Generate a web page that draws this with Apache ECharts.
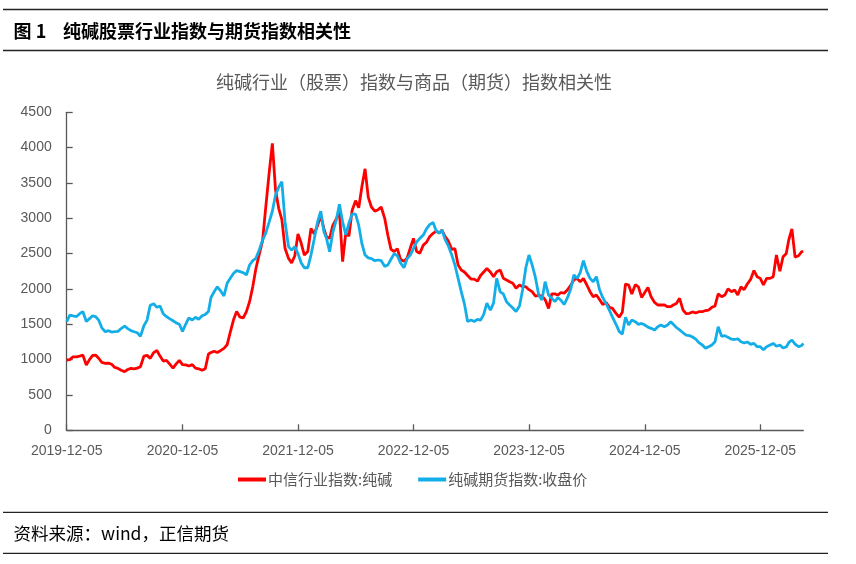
<!DOCTYPE html>
<html>
<head>
<meta charset="utf-8">
<script src="https://cdn.jsdelivr.net/npm/echarts@6/dist/echarts.min.js"></script>
<style>
html,body{margin:0;padding:0;background:#fff;}
#chart{width:856px;height:564px;}
</style>
</head>
<body>
<div id="chart"></div>
<script>
// Dates: 5th, 15th, 25th of each month
const dates = [
'2019-12-05','2019-12-15','2019-12-25',
'2020-01-05','2020-01-15','2020-01-25','2020-02-05','2020-02-15','2020-02-25','2020-03-05','2020-03-15','2020-03-25',
'2020-04-05','2020-04-15','2020-04-25','2020-05-05','2020-05-15','2020-05-25','2020-06-05','2020-06-15','2020-06-25',
'2020-07-05','2020-07-15','2020-07-25','2020-08-05','2020-08-15','2020-08-25','2020-09-05','2020-09-15','2020-09-25',
'2020-10-05','2020-10-15','2020-10-25','2020-11-05','2020-11-15','2020-11-25','2020-12-05','2020-12-15','2020-12-25',
'2021-01-05','2021-01-15','2021-01-25','2021-02-05','2021-02-15','2021-02-25','2021-03-05','2021-03-15','2021-03-25',
'2021-04-05','2021-04-15','2021-04-25','2021-05-05','2021-05-15','2021-05-25','2021-06-05','2021-06-15','2021-06-25',
'2021-07-05','2021-07-15','2021-07-25','2021-08-05','2021-08-15','2021-08-25','2021-09-05','2021-09-15','2021-09-25',
'2021-10-05','2021-10-15','2021-10-25','2021-11-05','2021-11-15','2021-11-25','2021-12-05','2021-12-15','2021-12-25',
'2022-01-05','2022-01-15','2022-01-25','2022-02-05','2022-02-15','2022-02-25','2022-03-05','2022-03-15','2022-03-25',
'2022-04-05','2022-04-15','2022-04-25','2022-05-05','2022-05-15','2022-05-25','2022-06-05','2022-06-15','2022-06-25',
'2022-07-05','2022-07-15','2022-07-25','2022-08-05','2022-08-15','2022-08-25','2022-09-05','2022-09-15','2022-09-25',
'2022-10-05','2022-10-15','2022-10-25','2022-11-05','2022-11-15','2022-11-25','2022-12-05','2022-12-15','2022-12-25',
'2023-01-05','2023-01-15','2023-01-25','2023-02-05','2023-02-15','2023-02-25','2023-03-05','2023-03-15','2023-03-25',
'2023-04-05','2023-04-15','2023-04-25','2023-05-05','2023-05-15','2023-05-25','2023-06-05','2023-06-15','2023-06-25',
'2023-07-05','2023-07-15','2023-07-25','2023-08-05','2023-08-15','2023-08-25','2023-09-05','2023-09-15','2023-09-25',
'2023-10-05','2023-10-15','2023-10-25','2023-11-05','2023-11-15','2023-11-25','2023-12-05','2023-12-15','2023-12-25',
'2024-01-05','2024-01-15','2024-01-25','2024-02-05','2024-02-15','2024-02-25','2024-03-05','2024-03-15','2024-03-25',
'2024-04-05','2024-04-15','2024-04-25','2024-05-05','2024-05-15','2024-05-25','2024-06-05','2024-06-15','2024-06-25',
'2024-07-05','2024-07-15','2024-07-25','2024-08-05','2024-08-15','2024-08-25','2024-09-05','2024-09-15','2024-09-25',
'2024-10-05','2024-10-15','2024-10-25','2024-11-05','2024-11-15','2024-11-25','2024-12-05','2024-12-15','2024-12-25',
'2025-01-05','2025-01-15','2025-01-25','2025-02-05','2025-02-15','2025-02-25','2025-03-05','2025-03-15','2025-03-25',
'2025-04-05','2025-04-15','2025-04-25','2025-05-05','2025-05-15','2025-05-25','2025-06-05','2025-06-15','2025-06-25',
'2025-07-05','2025-07-15','2025-07-25','2025-08-05','2025-08-15','2025-08-25','2025-09-05','2025-09-15','2025-09-25',
'2025-10-05','2025-10-15','2025-10-25','2025-11-05','2025-11-15','2025-11-25','2025-12-05','2025-12-15','2025-12-25',
'2026-01-05','2026-01-15','2026-01-25','2026-02-05','2026-02-15','2026-02-25','2026-03-05','2026-03-15','2026-03-25',
'2026-04-05','2026-04-15','2026-04-20'
];

// 中信行业指数:纯碱
const stockIndex = [
995,1000,1040,
1040,1050,1065, 924,1000,1060, 1065,1020,960,
947,950,935, 890,877,850, 830,860,877,
870,880,900, 1050,1060,1018, 1100,1130,1050,
980,990,940, 880,940,990, 930,925,910,
930,880,870, 850,870,1080, 1100,1120,1100,
1130,1160,1210, 1390,1560,1680, 1600,1590,1680,
1820,2030,2290, 2500,2680,3150, 3650,4060,3400,
3141,2980,2575, 2433,2370,2470, 2780,2650,2480,
2530,2858,2780, 2900,3040,2850, 2740,2716,2900,
2990,3090,2386, 2790,2750,3110, 3250,3150,3450,
3700,3300,3160, 3100,3120,3160, 3000,2760,2560,
2530,2570,2420, 2390,2440,2580, 2716,2530,2505,
2620,2660,2740, 2787,2820,2790, 2834,2740,2680,
2560,2570,2339, 2268,2240,2190, 2140,2140,2110,
2190,2240,2290, 2240,2174,2245, 2268,2150,2127,
2103,2080,2010, 2056,2032,2032, 1990,1962,1900,
1910,1900,1850, 1725,1930,1930, 1914,1950,1940,
1990,2050,2130, 2150,2103,2150, 2056,1962,1890,
1914,1850,1780, 1810,1740,1725, 1655,1600,1670,
2070,2056,1930, 2060,2030,1880, 1950,2020,1890,
1810,1773,1773, 1773,1749,1749, 1773,1796,1867,
1700,1650,1655, 1675,1660,1678, 1678,1695,1702,
1740,1760,1930, 1890,1914,2000, 1962,1985,1914,
2030,1990,2070, 2140,2260,2174, 2150,2056,2150,
2150,2174,2480, 2250,2457,2500, 2693,2850,2450,
2470,2528,2528
];

// 纯碱期货指数:收盘价
const futuresIndex = [
1537,1630,1620,
1610,1650,1680, 1540,1580,1620, 1610,1560,1450,
1395,1410,1390, 1395,1400,1440, 1475,1440,1410,
1395,1380,1330, 1480,1560,1770, 1790,1740,1760,
1650,1610,1580, 1550,1520,1500, 1400,1500,1590,
1560,1600,1570, 1620,1640,1680, 1880,1960,2030,
1970,1900,2080, 2150,2220,2260, 2245,2230,2198,
2339,2400,2433, 2560,2690,2790, 2950,3100,3330,
3440,3518,2952, 2600,2550,2600, 2500,2370,2300,
2300,2480,2700, 2952,3100,2810, 2716,2528,2800,
2976,3200,2950, 2770,2930,3060, 3060,2900,2640,
2480,2440,2430, 2400,2410,2400, 2320,2340,2420,
2500,2470,2370, 2300,2430,2480, 2575,2665,2716,
2763,2850,2910, 2940,2820,2790, 2834,2700,2610,
2480,2339,2150, 1962,1790,1540, 1560,1540,1570,
1560,1640,1800, 1700,1800,2150, 1960,1930,1820,
1773,1730,1680, 1760,1990,2300, 2480,2340,2170,
1910,1843,2103, 1914,1870,1820, 1880,1840,1780,
1880,2000,2200, 2150,2230,2400, 2245,2150,2103,
2174,1990,1880, 1790,1700,1600, 1500,1400,1360,
1600,1490,1560, 1537,1500,1513, 1490,1460,1443,
1419,1466,1490, 1466,1490,1537, 1500,1455,1420,
1380,1348,1340, 1320,1290,1240, 1207,1160,1183,
1207,1254,1466, 1330,1340,1315, 1290,1285,1295,
1254,1235,1250, 1215,1230,1183, 1183,1140,1183,
1207,1230,1190, 1207,1165,1180, 1240,1278,1220,
1183,1200,1230
];

const xTickLabels = ['2019-12-05','2020-12-05','2021-12-05','2022-12-05','2023-12-05','2024-12-05','2025-12-05'];
const seriesNames = ['中信行业指数:纯碱','纯碱期货指数:收盘价'];
const chartTitle = '纯碱行业（股票）指数与商品（期货）指数相关性';
const figureNo = '图 1';
const figureTitle = '纯碱股票行业指数与期货指数相关性';
const sourceText = '资料来源：wind，正信期货';

function ts(s){const p=s.split('-').map(Number);return new Date(p[0],p[1]-1,p[2]).getTime();}
function fmt(v){const d=new Date(v);const p=n=>(n<10?'0':'')+n;return d.getFullYear()+'-'+p(d.getMonth()+1)+'-'+p(d.getDate());}

const tickVals = xTickLabels.map(ts);
const LAT = '"Liberation Sans", "Noto Sans CJK SC", sans-serif';
const CJK = '"Noto Sans CJK SC", sans-serif';

const chart = echarts.init(document.getElementById('chart'), null, {renderer:'canvas'});
chart.setOption({
  animation:false,
  backgroundColor:'#fff',
  grid:{left:66.7, right:52.7, top:112.3, bottom:133.7, containLabel:false},
  legend:{
    left:238, top:472, padding:0, itemGap:26, itemWidth:28, itemHeight:4, icon:'rect',
    textStyle:{fontSize:15, color:'#595959', fontFamily:CJK, padding:[0,0,0,-3]},
    data:seriesNames
  },
  xAxis:{
    type:'value',
    min:ts(dates[0]), max:ts(dates[dates.length-1]),
    axisLine:{show:true, lineStyle:{color:'#595959', width:1.3}},
    axisTick:{show:true, inside:true, length:6, customValues:tickVals, lineStyle:{color:'#595959', width:1.3}},
    axisLabel:{customValues:tickVals, formatter:v=>fmt(v), margin:14, fontSize:14, color:'#595959', fontFamily:LAT, hideOverlap:false},
    splitLine:{show:false}
  },
  yAxis:{
    type:'value', min:0, max:4500, interval:500,
    axisLine:{show:true, lineStyle:{color:'#595959', width:1.3}},
    axisTick:{show:true, inside:true, length:6, lineStyle:{color:'#595959', width:1.3}},
    axisLabel:{margin:15, fontSize:14, color:'#595959', fontFamily:LAT, formatter:v=>String(v)},
    splitLine:{show:false}
  },
  series:[
    {name:seriesNames[0], type:'line', showSymbol:false, symbol:'none', color:'#FF0000',
     lineStyle:{width:2.8, color:'#FF0000'}, data:dates.map((d,i)=>[ts(d), stockIndex[i]])},
    {name:seriesNames[1], type:'line', showSymbol:false, symbol:'none', color:'#13AEE8',
     lineStyle:{width:2.8, color:'#13AEE8'}, data:dates.map((d,i)=>[ts(d), futuresIndex[i]])}
  ],
  graphic:[
    {type:'line', shape:{x1:3, y1:9.5, x2:828, y2:9.5}, style:{stroke:'#222', lineWidth:1.3}},
    {type:'text', x:13.6, y:31.5, style:{text:figureNo, font:'bold 18px '+CJK, fill:'#000', textVerticalAlign:'middle'}},
    {type:'text', x:63, y:31.5, style:{text:figureTitle, font:'bold 18px '+CJK, fill:'#000', textVerticalAlign:'middle'}},
    {type:'line', shape:{x1:3, y1:50.5, x2:828, y2:50.5}, style:{stroke:'#222', lineWidth:1.3}},
    {type:'text', x:414, y:81.7, style:{text:chartTitle, font:'18px '+CJK, fill:'#595959', textAlign:'center', textVerticalAlign:'middle'}},
    {type:'line', shape:{x1:3, y1:512.3, x2:828, y2:512.3}, style:{stroke:'#222', lineWidth:1.3}},
    {type:'text', x:13.6, y:533.3, style:{text:sourceText, font:'17.5px '+CJK, fill:'#000', textVerticalAlign:'middle'}},
    {type:'line', shape:{x1:3, y1:553.3, x2:828, y2:553.3}, style:{stroke:'#222', lineWidth:1.3}}
  ]
});
</script>
</body>
</html>
